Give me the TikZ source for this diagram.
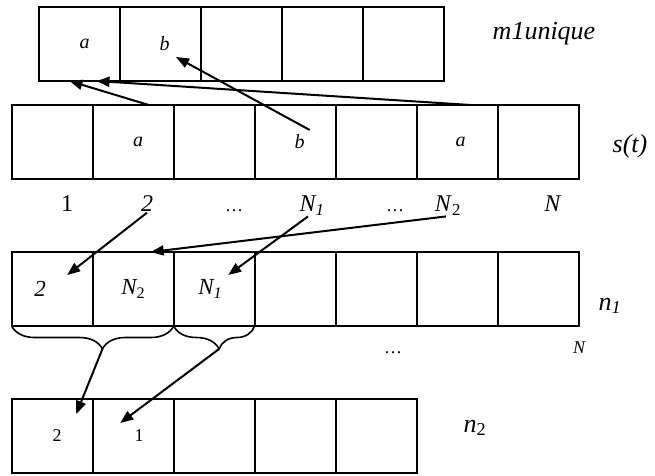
\documentclass[tikz,border=0pt]{standalone}
\usepackage{fontspec}
\setmainfont{Liberation Serif}
\usetikzlibrary{arrows.meta, positioning, calc, decorations.pathreplacing}

\begin{document}
\begin{tikzpicture}[x=1pt, y=1pt,
    cell/.style={draw, line width=1.8pt, minimum width=81pt, minimum height=74pt,
                 inner sep=0pt, outer sep=0pt, font=\fontsize{20}{24}\selectfont\itshape},
    tag/.style={anchor=base, inner sep=1pt, font=\fontsize{26}{30}\selectfont\itshape},
    idx/.style={anchor=base, inner sep=1pt, font=\fontsize{24}{28}\selectfont},
    small/.style={anchor=base, inner sep=1pt, font=\fontsize{18}{22}\selectfont},
    link/.style={line width=2pt, -{Triangle[length=13pt, width=10pt]}},
    curly/.style={decorate, decoration={brace, mirror, amplitude=23pt, aspect=0.56}, line width=1.6pt}
]
    \useasboundingbox (0,0) rectangle (655,475);

    % m1unique
    \node[cell] (u1) at (79.5,431) {\hspace*{10pt}a};
    \node[cell, right=0pt of u1] (u2) {\hspace*{8pt}b};
    \foreach \i [count=\j from 2] in {3,...,5}
        \node[cell, right=0pt of u\j] (u\i) {};
    \node[tag] (utag) at (544,435) {m1unique};

    % s(t)
    \node[cell] (s1) at (52.2,333) {};
    \node[cell, right=0pt of s1] (s2) {\hspace*{10pt}a};
    \node[cell, right=0pt of s2] (s3) {};
    \node[cell, right=0pt of s3] (s4) {\hspace*{9pt}b};
    \node[cell, right=0pt of s4] (s5) {};
    \node[cell, right=0pt of s5] (s6) {\hspace*{7pt}a};
    \node[cell, right=0pt of s6] (s7) {};
    \node[tag] (stag) at (630,323) {s(t)};

    % indices under s(t)
    \node[idx] (i1) at (67,263.5) {1};
    \node[idx] (i2) at (147,263.5) {\textit{2}};
    \node[small] (i3) at (234,263.5) {…};
    \node[idx] (iN1) at (312,263.5) {\textit{N\textsubscript{1}}};
    \node[small] (i5) at (395,263.5) {…};
    \node[idx] (iN2) at (448,263.5) {\textit{N}\textsubscript{2}};
    \node[idx] (iN) at (553,263.5) {\textit{N}};

    % n1
    \node[cell, font=\fontsize{23}{27}\selectfont\itshape] (p1) at (52.2,186) {2\hspace*{24pt}};
    \node[cell, font=\fontsize{23}{27}\selectfont\itshape, right=0pt of p1] (p2) {N\textsubscript{\upshape 2}};
    \node[cell, font=\fontsize{23}{27}\selectfont\itshape, right=0pt of p2] (p3) {N\textsubscript{1}\hspace*{8pt}};
    \foreach \i [count=\j from 3] in {4,...,7}
        \node[cell, right=0pt of p\j] (p\i) {};
    \node[tag] (ptag) at (610,165) {n\textsubscript{1}};
    \node[small] (pdots) at (393,122) {…};
    \node[small, font=\fontsize{18}{22}\selectfont\itshape] (pN) at (579,122) {N};

    % n2
    \node[cell, font=\fontsize{18}{22}\selectfont] (q1) at (52.2,39) {\hspace*{10pt}2};
    \node[cell, font=\fontsize{18}{22}\selectfont, right=0pt of q1] (q2) {\hspace*{12pt}1};
    \foreach \i [count=\j from 2] in {3,...,5}
        \node[cell, right=0pt of q\j] (q\i) {};
    \node[tag] (qtag) at (475,43) {n\textsubscript{\upshape 2}};

    % braces
    \draw[curly] (p1.south west) -- (p2.south east);
    \draw[curly] (p2.south east) -- (p3.south east);
    \coordinate (braceA) at ($(p1.south west)!0.56!(p2.south east)+(0,-23)$);
    \coordinate (braceB) at ($(p2.south east)!0.56!(p3.south east)+(0,-23)$);

    % arrows
    \draw[link] ([xshift=15.5pt]s2.north) -- ([xshift=-10pt]u1.south);
    \draw[link] ([xshift=13.5pt]s6.north) -- ([xshift=17pt]u1.south);
    \draw[link] ([shift={(14.5,12)}]s4.center) -- ([shift={(15.5,-13)}]u2.center);
    \draw[link] (i2.south) -- ([shift={(15,14)}]p1.center);
    \draw[link] ([xshift=-4pt]iN1.south) -- ([shift={(14,14)}]p3.center);
    \draw[link] ([xshift=-2pt]iN2.south) -- ([xshift=17.5pt]p2.north);
    \draw[link] (braceA) -- ([shift={(24,22)}]q1.center);
    \draw[link] (braceB) -- ([shift={(-13,13)}]q2.center);
\end{tikzpicture}
\end{document}
